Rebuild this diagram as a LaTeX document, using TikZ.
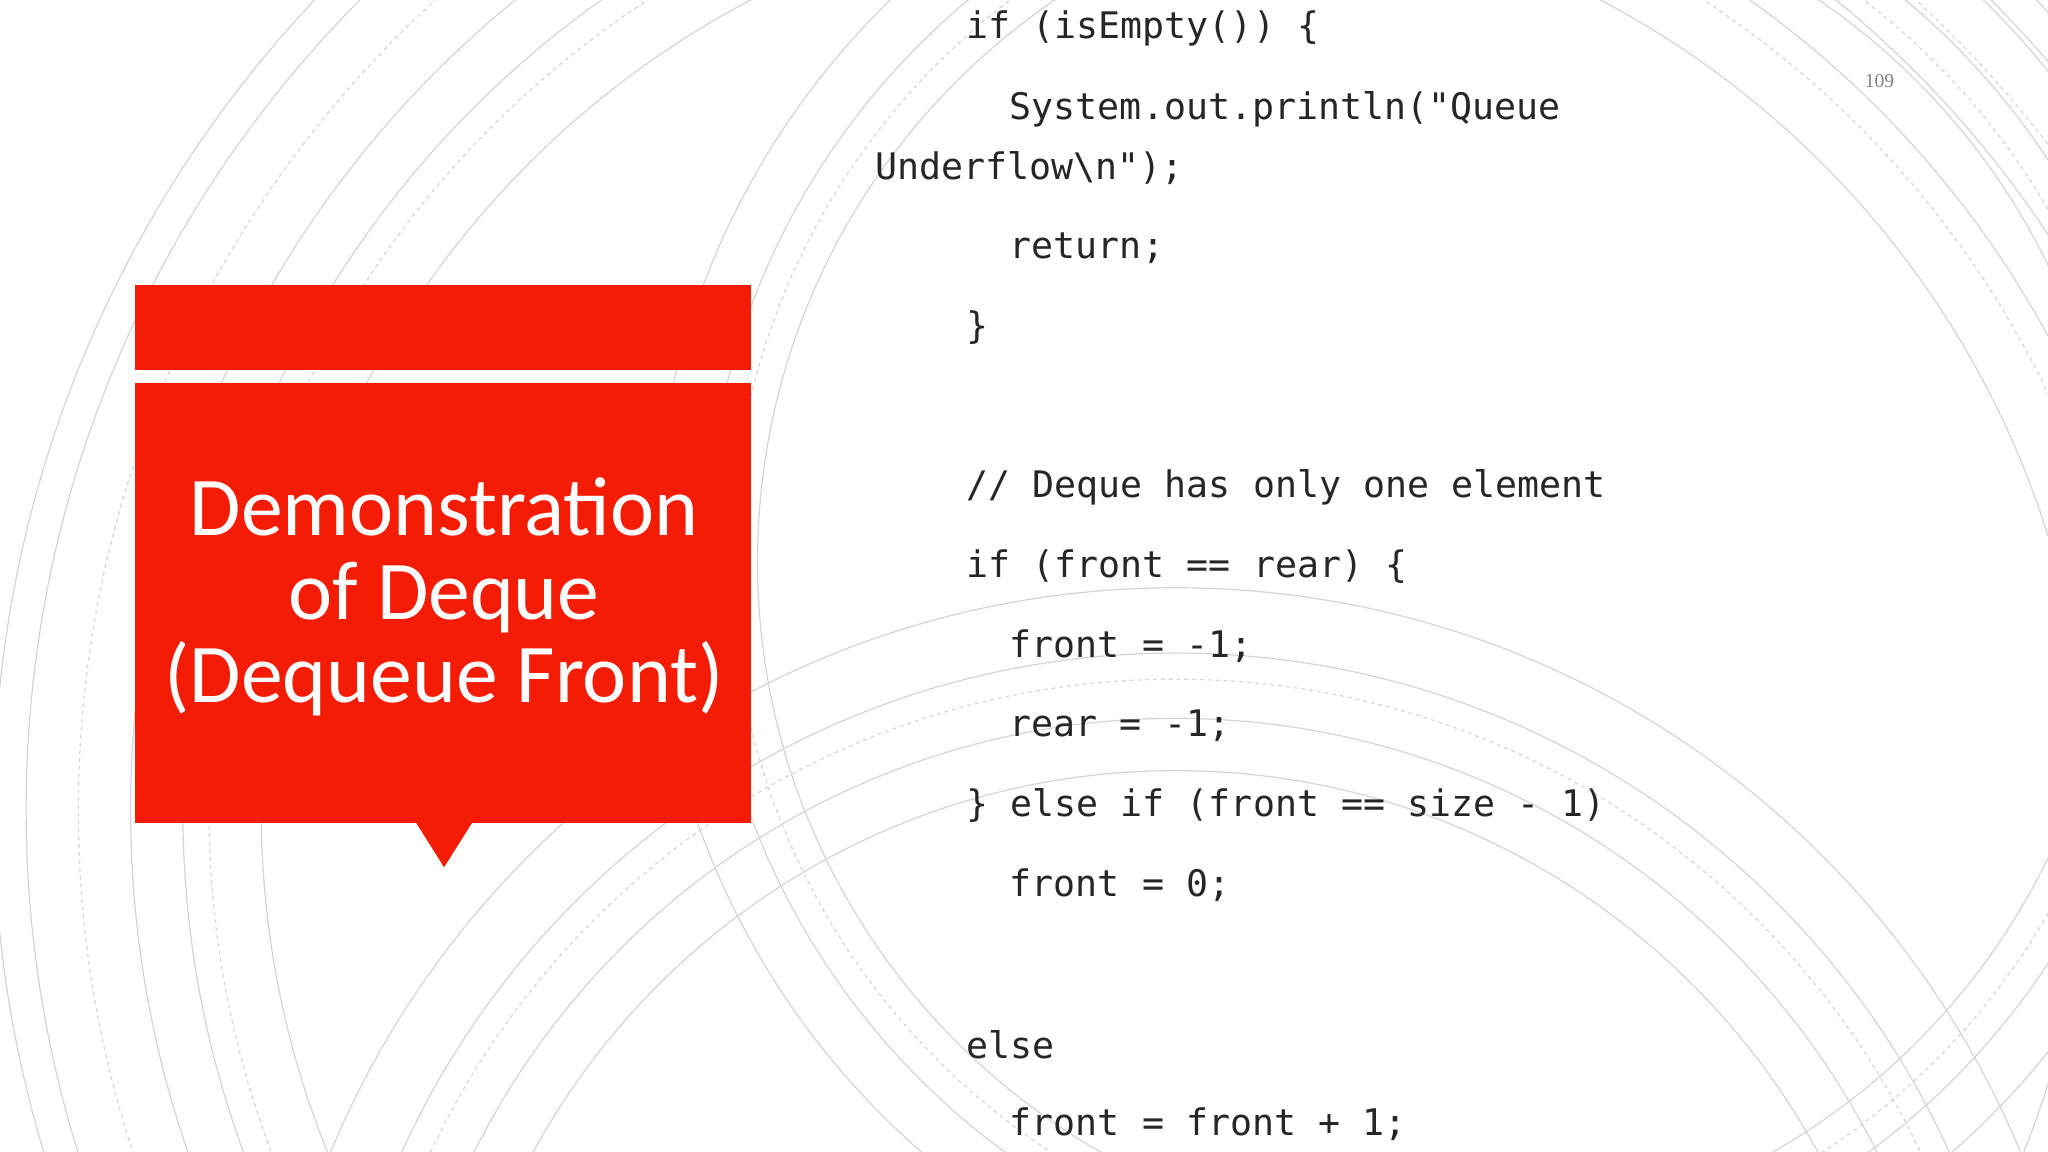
\documentclass[tikz,border=0pt]{standalone}
\usepackage{fontspec}
\setmainfont{Liberation Serif}
\newfontfamily\titlefont{Carlito}
\newfontfamily\codefont{DejaVu Sans Mono}
\definecolor{slidered}{HTML}{F41C05}
\definecolor{arcgray}{HTML}{D4D4D4}
\tikzset{
  arcline/.style={arcgray, line width=0.9pt},
  arcdash/.style={arcgray, line width=0.9pt, dashed},
  code/.style={anchor=west, inner sep=0pt, font=\codefont\fontsize{28}{30}\selectfont, text=black!85},
  title/.style={align=center, text=white, font=\titlefont\fontsize{64}{66}\selectfont}
}
\begin{document}
\begin{tikzpicture}[x=1pt,y=-1pt]
\useasboundingbox (0,0) rectangle (1568,882);
\fill[white] (0,0) rectangle (1568,882);
\begin{scope}
\clip (0,0) rectangle (1568,882);
\foreach \r in {700,760,800,880,905} \draw[arcline] (900,620) circle (\r);
\foreach \r in {740,840} \draw[arcdash] (900,620) circle (\r);
\foreach \r in {560,600,650,700} \draw[arcline] (900,1150) circle (\r);
\draw[arcdash] (900,1150) circle (630);
\foreach \r in {520,560,600} \draw[arcline] (1100,430) circle (\r);
\draw[arcdash] (1100,430) circle (540);
\end{scope}
% red boxes
\fill[slidered] (103,218) rectangle (575,283);
\fill[slidered] (103,293) rectangle (575,630);
\fill[slidered] (318,629) -- (362,629) -- (340,664) -- cycle;
\node[title] (t) at (340,457) {Demonstration\\[-2pt]of Deque\\[-2pt](Dequeue Front)};
\node[text=gray, font=\fontsize{15}{16}\selectfont] (pg) at (1439,62) {109};
% code
\node[code] (c1) at (740,22) {if (isEmpty()) \{};
\node[code] (c2) at (773,84) {System.out.println("Queue};
\node[code] (c3) at (670,129) {Underflow\textbackslash n");};
\node[code] (c4) at (773,190) {return;};
\node[code] (c5) at (740,251) {\}};
\node[code] (c6) at (740,373) {// Deque has only one element};
\node[code] (c7) at (740,434) {if (front == rear) \{};
\node[code] (c8) at (773,495) {front = -1;};
\node[code] (c9) at (773,556) {rear = -1;};
\node[code] (c10) at (740,617) {\} else if (front == size - 1)};
\node[code] (c11) at (773,678) {front = 0;};
\node[code] (c12) at (740,800) {else};
\node[code] (c13) at (773,861) {front = front + 1;};
\end{tikzpicture}
\end{document}
